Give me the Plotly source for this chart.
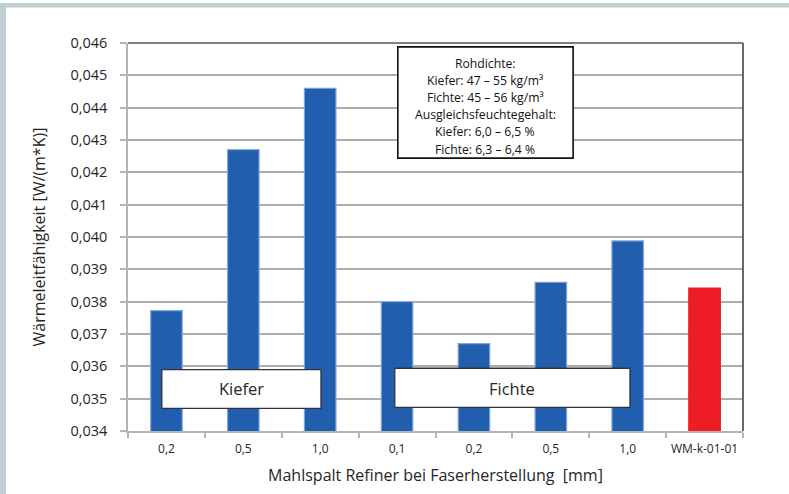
import plotly.graph_objects as go

categories = ["K 0,2", "K 0,5", "K 1,0", "F 0,1", "F 0,2", "F 0,5", "F 1,0", "WM-k-01-01"]
tick_labels = ["0,2", "0,5", "1,0", "0,1", "0,2", "0,5", "1,0", "WM-k-01-01"]
values = [0.03772, 0.0427, 0.0446, 0.0380, 0.0367, 0.0386, 0.03988, 0.03842]
bar_colors = ["#215EAD"] * 7 + ["#EE1C25"]
edge_colors = ["#7FA6DA"] * 7 + ["#EE1C25"]
y_ticks = [0.034 + 0.001 * i for i in range(13)]
y_tick_labels = [f"{v:.3f}".replace(".", ",") for v in y_ticks]
info_lines = ["Rohdichte:", "Kiefer: 47 – 55 kg/m³", "Fichte: 45 – 56 kg/m³",
              "Ausgleichsfeuchtegehalt:", "Kiefer: 6,0 – 6,5 %", "Fichte: 6,3 – 6,4 %"]

FONT = "Open Sans"
W, H = 789, 494
ML, MR, MT, MB = 128, 46, 43, 63
PW, PH = W - ML - MR, H - MT - MB

fig = go.Figure()
fig.add_trace(go.Bar(
    x=categories, y=values,
    marker=dict(color=bar_colors, line=dict(color=edge_colors, width=1.2)),
    width=0.41,
))

fig.update_layout(
    width=W, height=H,
    margin=dict(l=ML, r=MR, t=MT, b=MB, autoexpand=False),
    paper_bgcolor="white", plot_bgcolor="white",
    showlegend=False,
    font=dict(family=FONT, color="#262626"),
    xaxis=dict(
        type="category", range=[-0.5, 7.5], automargin=False, tickangle=0,
        tickmode="array", tickvals=categories, ticktext=tick_labels,
        tickson="boundaries", ticks="outside", ticklen=5, tickcolor="#B4B4B4", tickwidth=1.5,
        showline=True, linecolor="#B4B4B4", linewidth=1.5,
        showgrid=False,
        tickfont=dict(size=12, family=FONT, color="#262626"),
        ticklabelstandoff=6,
        title=dict(text="Mahlspalt Refiner bei Faserherstellung \u00a0[mm]", font=dict(size=16, family=FONT, color="#262626"), standoff=14),
    ),
    yaxis=dict(
        range=[0.034, 0.046], automargin=False,
        tickmode="array", tickvals=y_ticks, ticktext=y_tick_labels,
        ticks="outside", ticklen=6, tickcolor="#B4B4B4", tickwidth=1.5,
        showline=True, linecolor="#B4B4B4", linewidth=1.5,
        showgrid=True, gridcolor="#ADADAD", gridwidth=1.5,
        zeroline=False,
        tickfont=dict(size=14.5, family=FONT, color="#262626"),
        ticklabelstandoff=10,
        title=dict(text="Wärmeleitfähigkeit [W/(m*K)]", font=dict(size=16, family=FONT, color="#262626"), standoff=21),
    ),
    bargap=0.59,
)

def px_x(p):
    return (p - ML) / PW

def px_y(p):
    return (H - MB - p) / PH

shapes = []
shapes.append(dict(type="rect", xref="paper", yref="paper", x0=px_x(0), x1=px_x(6), y0=px_y(H), y1=px_y(3),
                   fillcolor="#C0CFD1", line=dict(width=0), layer="above"))
shapes.append(dict(type="rect", xref="paper", yref="paper", x0=px_x(0), x1=px_x(W), y0=px_y(7.5), y1=px_y(3),
                   fillcolor="#C0CFD1", line=dict(width=0), layer="above"))
shapes.append(dict(type="line", xref="paper", yref="paper", x0=0, x1=1, y0=1, y1=1,
                   line=dict(color="#7F7F7F", width=1.8), layer="above"))
shapes.append(dict(type="line", xref="paper", yref="paper", x0=1, x1=1, y0=0, y1=1,
                   line=dict(color="#595959", width=1.8), layer="above"))
shapes.append(dict(type="rect", xref="x", yref="y", x0=-0.06, x1=2.01, y0=0.03470, y1=0.03590,
                   fillcolor="white", line=dict(color="#333333", width=1.3), layer="above"))
shapes.append(dict(type="rect", xref="x", yref="y", x0=2.97, x1=6.03, y0=0.03473, y1=0.03594,
                   fillcolor="white", line=dict(color="#333333", width=1.3), layer="above"))
shapes.append(dict(type="rect", xref="x", yref="y", x0=3.01, x1=5.29, y0=0.04244, y1=0.04588,
                   fillcolor="white", line=dict(color="#111111", width=1.6), layer="above"))
fig.update_layout(shapes=shapes)

fig.add_annotation(x=0.975, y=0.0353, xref="x", yref="y", text="Kiefer", showarrow=False,
                   font=dict(size=16.5, family=FONT, color="#262626"))
fig.add_annotation(x=4.5, y=0.03533, xref="x", yref="y", text="Fichte", showarrow=False,
                   font=dict(size=16.5, family=FONT, color="#262626"))
line_step = 17.2 / PH * (0.046 - 0.034)
y_first = 0.034 + (431 - 63) / PH * (0.046 - 0.034)
for i, ln in enumerate(info_lines):
    fig.add_annotation(x=4.15, y=y_first - i * line_step, xref="x", yref="y", text=ln, showarrow=False,
                       font=dict(size=12.2, family=FONT, color="#111111"), align="center")

fig.write_html("out.html", config={"displayModeBar": False},
               post_script="document.body.style.margin='0';document.body.style.overflow='hidden';")
